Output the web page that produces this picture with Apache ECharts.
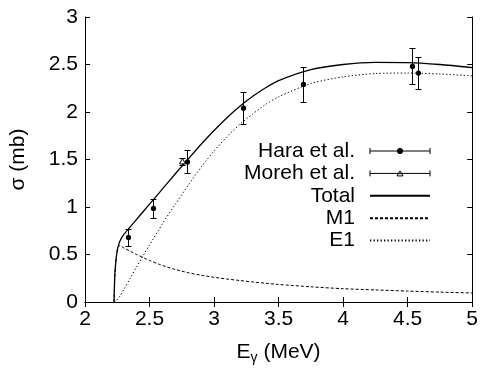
<!DOCTYPE html>
<html>
<head>
<meta charset="utf-8">
<script src="https://cdn.jsdelivr.net/npm/echarts@6/dist/echarts.min.js"></script>
<style>
  html, body { margin: 0; padding: 0; background: #fff; }
  #chart { width: 481px; height: 370px; }
</style>
</head>
<body>
<div id="chart"></div>
<script>
// measured points (energy in MeV, sigma in mb, error in mb)
const haraX = [2.332, 2.524, 2.793, 3.228, 3.688, 4.533, 4.581]
const haraY = [0.68, 0.985, 1.475, 2.04, 2.29, 2.48, 2.41]
const haraErr = [0.09, 0.10, 0.12, 0.17, 0.18, 0.19, 0.17]

const morehX = [2.754]
const morehY = [1.48]
const morehErr = [0.04]

// calculated curves
const curveX = [2.225, 2.23, 2.236, 2.245, 2.256, 2.27, 2.3, 2.35, 2.4, 2.46, 2.5, 2.576, 2.6, 2.7, 2.8, 2.9,
  3.0, 3.1, 3.2, 3.3, 3.4, 3.5, 3.75, 4.0, 4.25, 4.5, 4.75, 5.0]
const totalY = [0, 0.25, 0.38, 0.50, 0.58, 0.64, 0.71, 0.79, 0.87, 0.966, 1.03, 1.151, 1.19, 1.35, 1.505, 1.66,
  1.805, 1.94, 2.06, 2.165, 2.255, 2.33, 2.445, 2.50, 2.522, 2.52, 2.50, 2.468]
const m1Y = [0, 0.25, 0.38, 0.50, 0.58, 0.595, 0.57, 0.535, 0.50, 0.462, 0.438, 0.396, 0.384, 0.342, 0.308, 0.282,
  0.26, 0.242, 0.226, 0.211, 0.197, 0.185, 0.16, 0.14, 0.127, 0.115, 0.104, 0.095]
const e1Y = [0, 0.003, 0.008, 0.018, 0.035, 0.06, 0.13, 0.25, 0.37, 0.51, 0.60, 0.77, 0.825, 1.03, 1.23, 1.42,
  1.59, 1.74, 1.87, 1.98, 2.08, 2.16, 2.30, 2.37, 2.405, 2.41, 2.40, 2.38]

const xTicks = { min: 2, max: 5, interval: 0.5 }
const yTicks = { min: 0, max: 3, interval: 0.5 }

const FONT = 'Liberation Sans'

function zip(xs, ys, es) {
  return xs.map((x, i) => es ? [x, ys[i], es[i]] : [x, ys[i]])
}

// vertical error bar with caps, plus the marker
function errorBar(marker) {
  return function (params, api) {
    const x = api.value(0)
    const y = api.value(1)
    const e = api.value(2)
    const p = api.coord([x, y])
    const hi = api.coord([x, y + e])
    const lo = api.coord([x, y - e])
    const cx = Math.round(p[0]) + 0.5
    const yh = Math.round(hi[1]) + 0.5
    const yl = Math.round(lo[1]) + 0.5
    const cap = 3
    const st = { stroke: '#000', lineWidth: 1, fill: null }
    const children = [
      { type: 'line', shape: { x1: cx, y1: yh, x2: cx, y2: yl }, style: st },
      { type: 'line', shape: { x1: cx - cap, y1: yh, x2: cx + cap, y2: yh }, style: st },
      { type: 'line', shape: { x1: cx - cap, y1: yl, x2: cx + cap, y2: yl }, style: st }
    ]
    if (marker === 'circle') {
      children.push({ type: 'circle', shape: { cx: cx, cy: p[1], r: 2.6 }, style: { fill: '#000' } })
    } else {
      children.push({
        type: 'polygon',
        shape: { points: [[cx - 3, p[1] + 2.5], [cx + 3, p[1] + 2.5], [cx, p[1] - 3]] },
        style: { fill: '#fff', stroke: '#000', lineWidth: 1 }
      })
    }
    return { type: 'group', children }
  }
}

const axisCommon = {
  axisLine: { lineStyle: { color: '#000', width: 1 } },
  axisTick: { inside: true, length: 5, lineStyle: { color: '#000' } },
  splitLine: { show: false }
}

const chart = echarts.init(document.getElementById('chart'), null, { renderer: 'canvas' })

const option = {
  animation: false,
  backgroundColor: '#fff',
  textStyle: { fontFamily: FONT },
  grid: { left: 85, right: 5, top: 17, bottom: 67 },
  xAxis: [{
    type: 'value',
    ...xTicks,
    ...axisCommon,
    axisLabel: { color: '#000', fontSize: 21, margin: 7, fontFamily: FONT },
    name: '{a|E}{s|γ}{a| (MeV)}',
    nameLocation: 'middle',
    nameGap: 37,
    nameTextStyle: {
      color: '#000',
      rich: {
        a: { fontSize: 21, lineHeight: 26, color: '#000', fontFamily: FONT },
        s: { fontSize: 14, lineHeight: 14, verticalAlign: 'bottom', color: '#000', fontFamily: FONT }
      }
    }
  }, {
    type: 'value',
    position: 'top',
    ...xTicks,
    ...axisCommon,
    axisLabel: { show: false }
  }],
  yAxis: [{
    type: 'value',
    ...yTicks,
    ...axisCommon,
    axisLabel: { color: '#000', fontSize: 21, margin: 7, fontFamily: FONT },
    name: 'σ (mb)',
    nameLocation: 'middle',
    nameGap: 56,
    nameTextStyle: { color: '#000', fontSize: 21, fontFamily: FONT }
  }, {
    type: 'value',
    position: 'right',
    ...yTicks,
    ...axisCommon,
    axisLabel: { show: false }
  }],
  legend: {
    orient: 'vertical',
    align: 'right',
    right: 45,
    top: 135,
    itemWidth: 60,
    itemHeight: 10,
    itemGap: 0.4,
    selectedMode: false,
    textStyle: { color: '#000', fontSize: 21, lineHeight: 22, padding: [0, 10, 0, 0], fontFamily: FONT },
    data: [
      {
        name: 'Hara et al.',
        icon: 'path://M0,5H60M0,2V8M60,2V8M27.4,5A2.6,2.6 0 1 1 32.6,5A2.6,2.6 0 1 1 27.4,5Z',
        itemStyle: { color: '#000', borderColor: '#000', borderWidth: 1 }
      },
      {
        name: 'Moreh et al.',
        icon: 'path://M0,5H60M0,2V8M60,2V8M27,7.5L33,7.5L30,2.5Z',
        itemStyle: { color: '#fff', borderColor: '#000', borderWidth: 1 }
      },
      { name: 'Total', itemStyle: { opacity: 0 } },
      { name: 'M1', itemStyle: { opacity: 0 } },
      { name: 'E1', itemStyle: { opacity: 0 } }
    ]
  },
  series: [
    {
      name: 'Total',
      type: 'line',
      data: zip(curveX, totalY),
      symbol: 'none',
      smooth: 0.25,
      itemStyle: { color: '#000' },
      lineStyle: { color: '#000', width: 1.3 },
      z: 3
    },
    {
      name: 'M1',
      type: 'line',
      data: zip(curveX, m1Y),
      symbol: 'none',
      smooth: 0.25,
      itemStyle: { color: '#000' },
      lineStyle: { color: '#000', width: 1, type: [3, 2] },
      z: 3
    },
    {
      name: 'E1',
      type: 'line',
      data: zip(curveX, e1Y),
      symbol: 'none',
      smooth: 0.25,
      itemStyle: { color: '#000' },
      lineStyle: { color: '#000', width: 1, type: [1.3, 2.2] },
      z: 3
    },
    {
      name: 'Hara et al.',
      type: 'custom',
      renderItem: errorBar('circle'),
      data: zip(haraX, haraY, haraErr),
      encode: { x: 0, y: 1 },
      itemStyle: { color: '#000' },
      z: 4
    },
    {
      name: 'Moreh et al.',
      type: 'custom',
      renderItem: errorBar('triangle'),
      data: zip(morehX, morehY, morehErr),
      encode: { x: 0, y: 1 },
      itemStyle: { color: '#000' },
      z: 4
    }
  ]
}

chart.setOption(option)
</script>
</body>
</html>
